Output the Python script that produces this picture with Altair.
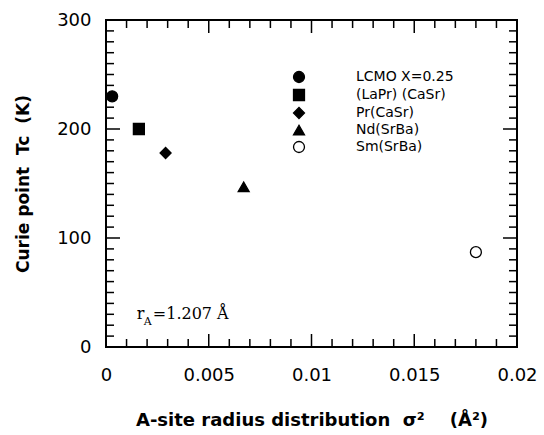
import altair as alt
import pandas as pd

# ---- data ----
series = ["LCMO  X=0.25", "(LaPr) (CaSr)", "Pr(CaSr)", "Nd(SrBa)", "Sm(SrBa)"]
sigma2 = [0.0003, 0.0016, 0.0029, 0.0067, 0.018]
tc = [230, 200, 178, 147, 87]
shapes = ["circle", "square", "diamond", "triangle-up", "circle"]
fills = ["black", "black", "black", "black", "white"]
strokes = ["black", "black", "black", "black", "black"]

x_major = [0, 0.005, 0.01, 0.015, 0.02]
x_minor = [0.001, 0.002, 0.003, 0.004, 0.006, 0.007, 0.008, 0.009,
           0.011, 0.012, 0.013, 0.014, 0.016, 0.017, 0.018, 0.019]
y_major = [0, 100, 200, 300]
y_minor = [10, 20, 30, 40, 50, 60, 70, 80, 90,
           110, 120, 130, 140, 150, 160, 170, 180, 190,
           210, 220, 230, 240, 250, 260, 270, 280, 290]

x_domain = [0, 0.02]
y_domain = [0, 300]

x_title = "A-site radius distribution\u00a0\u00a0σ²\u00a0\u00a0\u00a0\u00a0(Å²)"
y_title = "Curie point\u00a0\u00a0Tc\u00a0\u00a0(K)"

W, H = 411, 327
FONT = "DejaVu Sans"

df = pd.DataFrame({"series": series, "sigma2": sigma2, "tc": tc})

xs = alt.Scale(domain=x_domain, nice=False, zero=False)
ys = alt.Scale(domain=y_domain, nice=False, zero=False)

x_axis = alt.Axis(
    values=x_major, format="~g", ticks=False, tickSize=0, domain=False, grid=False,
    labelFont=FONT, labelFontSize=18, labelColor="black", labelPadding=19,
    labelFlush=False,
    title=x_title, titleFont=FONT,
    titleFontSize=18, titleFontWeight="bold", titleColor="black",
    titleX=W / 2, titleY=73, titleAlign="center", titleBaseline="middle")
y_axis = alt.Axis(
    values=y_major, ticks=False, tickSize=0, domain=False, grid=False,
    labelFont=FONT, labelFontSize=18, labelColor="black", labelPadding=15,
    labelFlush=False,
    title=y_title, titleFont=FONT,
    titleFontSize=17, titleFontWeight="bold", titleColor="black",
    titleX=-83, titleY=H / 2, titleAlign="center", titleBaseline="middle")

legend_def = alt.Legend(
    orient="none", legendX=186, legendY=50, padding=0,
    labelFont=FONT, labelFontSize=14, labelColor="black",
    labelOffset=50, rowPadding=0, symbolSize=120,
    symbolStrokeWidth=1.3,
)

points = alt.Chart(df).mark_point(
    opacity=1, strokeWidth=1.3, size=120
).encode(
    x=alt.X("sigma2:Q", scale=xs, axis=x_axis, title=x_title),
    y=alt.Y("tc:Q", scale=ys, axis=y_axis, title=y_title),
    shape=alt.Shape("series:N", scale=alt.Scale(domain=series, range=shapes),
                    title=None, legend=legend_def),
    fill=alt.Fill("series:N", scale=alt.Scale(domain=series, range=fills),
                  title=None, legend=legend_def),
    stroke=alt.Stroke("series:N", scale=alt.Scale(domain=series, range=strokes),
                      title=None, legend=legend_def),
)


def enc_xy(c):
    return c.encode(
        x=alt.X("x:Q", scale=xs, axis=x_axis, title=x_title),
        y=alt.Y("y:Q", scale=ys, axis=y_axis, title=y_title),
    )


def vticks(vals, length):
    d = pd.DataFrame({"x": vals * 2,
                      "y": [y_domain[0]] * len(vals) + [y_domain[1]] * len(vals)})
    return enc_xy(alt.Chart(d).mark_tick(
        orient="vertical", size=2 * length, thickness=1.5, color="black",
        opacity=1, clip=True))


def hticks(vals, length):
    d = pd.DataFrame({"y": vals * 2,
                      "x": [x_domain[0]] * len(vals) + [x_domain[1]] * len(vals)})
    return enc_xy(alt.Chart(d).mark_tick(
        orient="horizontal", size=2 * length, thickness=1.5, color="black",
        opacity=1, clip=True))


ann = pd.DataFrame({"x": [0.0015], "y": [25.7]})
ann_r = enc_xy(alt.Chart(ann).mark_text(
    text="r", font="DejaVu Serif", fontSize=16, align="left", baseline="alphabetic",
    color="black"))
ann_a = enc_xy(alt.Chart(ann).mark_text(
    text="A", font="DejaVu Serif", fontSize=11, align="left", baseline="alphabetic",
    dx=7, dy=6, color="black"))
ann_v = enc_xy(alt.Chart(ann).mark_text(
    text="=1.207 Å", font="DejaVu Serif", fontSize=16, align="left", baseline="alphabetic",
    dx=16, color="black"))

chart = alt.layer(
    points,
    vticks(x_major, 13), vticks(x_minor, 8),
    hticks(y_major, 14), hticks(y_minor, 8),
    ann_r, ann_a, ann_v,
).properties(
    width=W, height=H,
    autosize=alt.AutoSizeParams(type="none"),
    padding={"left": 106, "top": 20, "right": 27, "bottom": 88},
    background="white",
).configure_view(
    stroke="black", strokeWidth=2
)

chart.save("out.html", embed_options={"renderer": "svg", "actions": False})
